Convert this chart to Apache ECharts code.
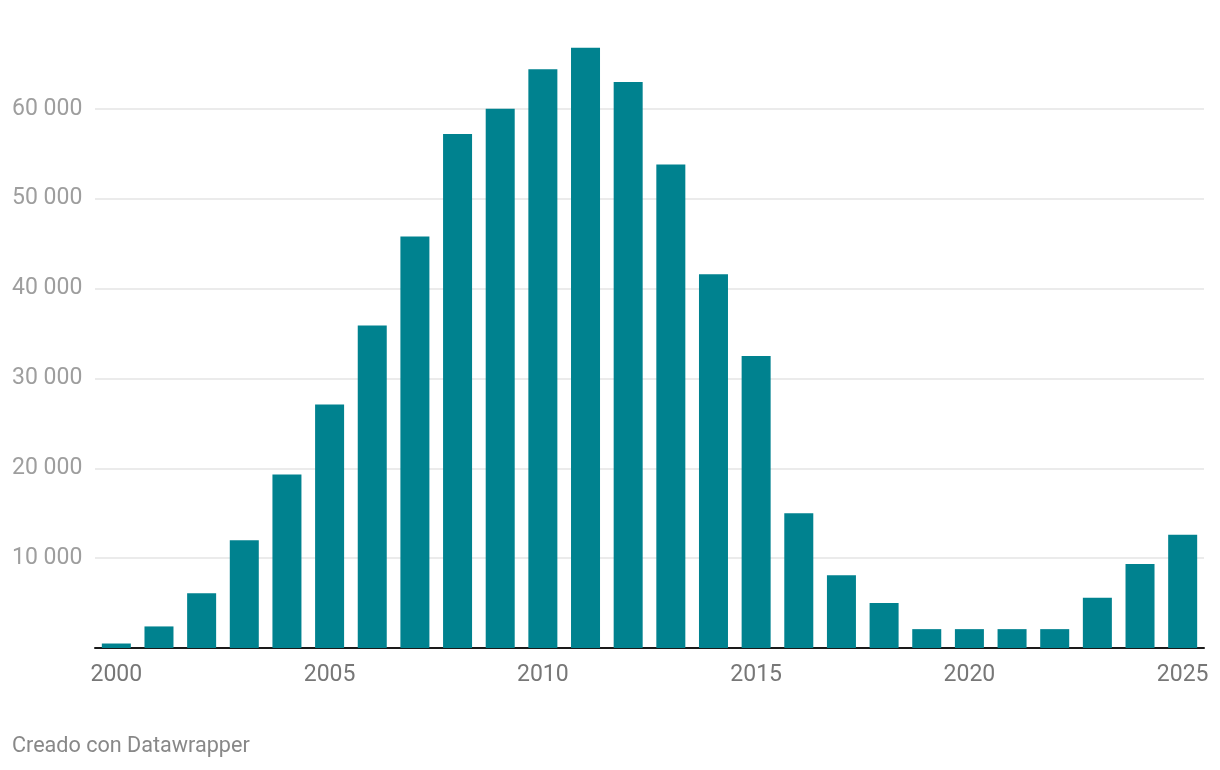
<!DOCTYPE html>
<html>
<head>
<meta charset="utf-8">
<script src="https://cdn.jsdelivr.net/npm/echarts@6/dist/echarts.min.js"></script>
<style>
html,body{margin:0;padding:0;background:#fff;}
#chart{width:1220px;height:770px;}
</style>
</head>
<body>
<div id="chart"></div>
<script>
const years = ['2000','2001','2002','2003','2004','2005','2006','2007','2008','2009','2010','2011','2012','2013','2014','2015','2016','2017','2018','2019','2020','2021','2022','2023','2024','2025'];
const values = [500,2400,6100,12000,19300,27100,35900,45800,57200,60000,64400,66800,63000,53800,41600,32500,15000,8100,5000,2100,2100,2100,2100,5600,9350,12600];
const yTicks = [0,10000,20000,30000,40000,50000,60000,70000];
const footer = 'Creado con Datawrapper';

const chart = echarts.init(document.getElementById('chart'));
chart.setOption({
  animation: false,
  textStyle: { fontFamily: 'Roboto' },
  grid: { left: 95, right: 16, top: 19, bottom: 122, containLabel: false },
  graphic: [{
    type: 'text', left: 12, top: 736,
    style: { text: footer, fontFamily: 'Roboto', fontSize: 21.6, fill: '#888888' }
  }],
  xAxis: {
    type: 'category',
    data: years,
    axisLine: { show: true, lineStyle: { color: '#1a1a1a', width: 2 } },
    axisTick: { show: false },
    axisLabel: {
      interval: 4, margin: 16,
      fontFamily: 'Roboto', fontSize: 23, color: '#777777'
    },
    splitLine: { show: false }
  },
  yAxis: {
    type: 'value',
    min: yTicks[0], max: yTicks[yTicks.length - 1], interval: 10000,
    axisLine: { show: false },
    axisTick: { show: false },
    axisLabel: {
      align: 'left', margin: 83,
      fontFamily: 'Roboto', fontSize: 23, color: '#9e9e9e',
      formatter: function (v) {
        if (v === 0 || v === 70000) return '';
        return String(v).replace(/\B(?=(\d{3})+(?!\d))/g, ' ');
      }
    },
    splitLine: {
      show: true,
      lineStyle: { color: ['rgba(0,0,0,0)','#e5e5e5','#e5e5e5','#e5e5e5','#e5e5e5','#e5e5e5','#e5e5e5','rgba(0,0,0,0)'], width: 1.5 }
    }
  },
  series: [{
    type: 'bar',
    data: values,
    barCategoryGap: '32%',
    itemStyle: { color: '#00828f' }
  }]
});
</script>
</body>
</html>
